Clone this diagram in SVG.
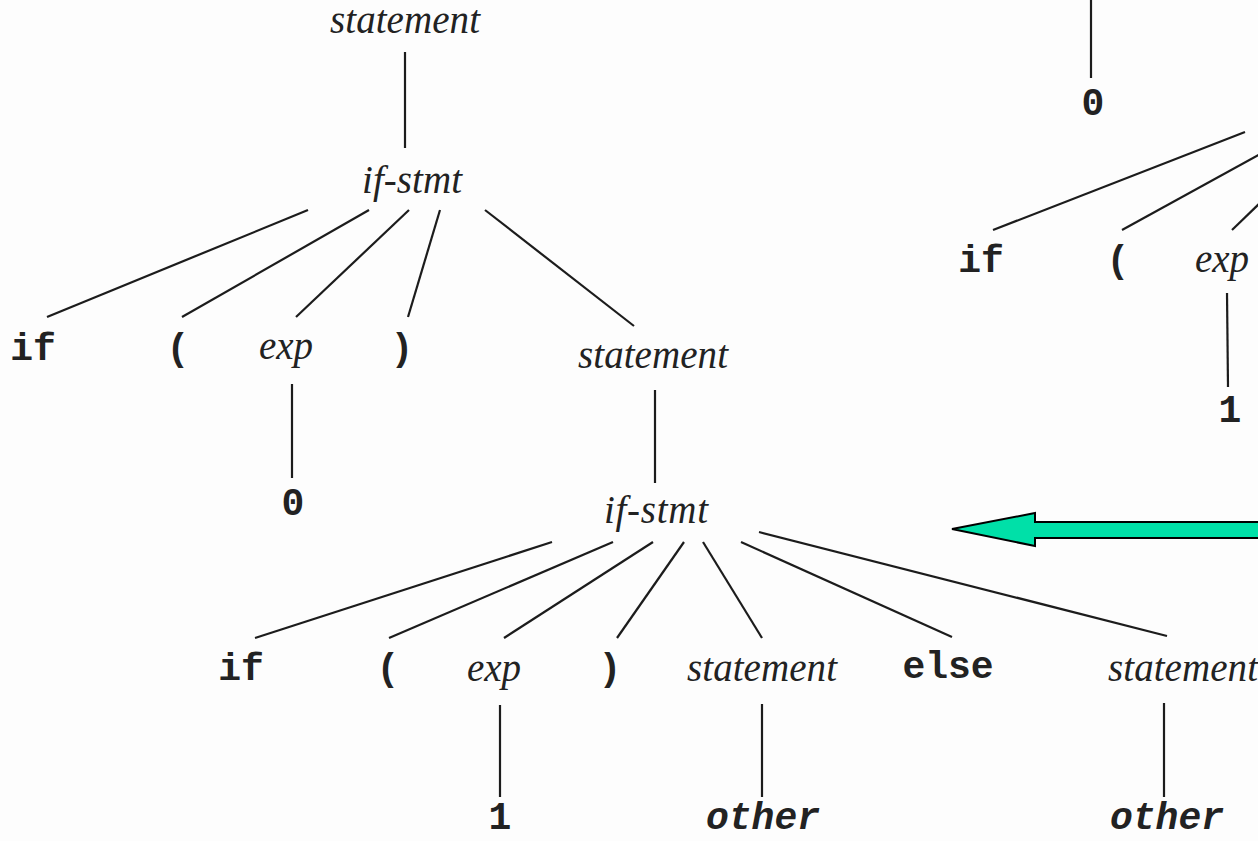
<svg xmlns="http://www.w3.org/2000/svg" width="1258" height="841" viewBox="0 0 1258 841">
  <style>
    .nt { font-family: "Liberation Serif", "Times New Roman", serif; font-style: italic; font-size: 39px; fill: #222; text-anchor: middle; }
    .tk { font-family: "Liberation Mono", "Courier New", monospace; font-weight: bold; font-size: 38px; fill: #222; text-anchor: middle; }
    .tki { font-style: italic; }
    .edge { stroke: #1c1c1c; stroke-width: 2.2; fill: none; stroke-linecap: butt; }
    .big-arrow { fill: #00e0a8; stroke: #000; stroke-width: 2; stroke-linejoin: miter; }
  </style>
  <rect width="1258" height="841" fill="#fdfdfd"/>

  <!-- tree edges -->
  <g id="connectors">
    <!-- upper tree -->
    <line class="edge" x1="405" y1="52" x2="405" y2="148"/>
    <line class="edge" x1="308" y1="210" x2="47" y2="317"/>
    <line class="edge" x1="369" y1="210" x2="182" y2="317"/>
    <line class="edge" x1="409" y1="210" x2="296" y2="317"/>
    <line class="edge" x1="440" y1="210" x2="408" y2="317"/>
    <line class="edge" x1="485" y1="210" x2="634" y2="326"/>
    <line class="edge" x1="292" y1="384" x2="292" y2="478"/>
    <line class="edge" x1="655" y1="390" x2="655" y2="483"/>
    <!-- inner if-stmt -->
    <line class="edge" x1="552" y1="542" x2="255" y2="638"/>
    <line class="edge" x1="613" y1="542" x2="389" y2="638"/>
    <line class="edge" x1="653" y1="542" x2="504" y2="638"/>
    <line class="edge" x1="684" y1="542" x2="617" y2="638"/>
    <line class="edge" x1="703" y1="542" x2="762" y2="638"/>
    <line class="edge" x1="741" y1="542" x2="952" y2="637"/>
    <line class="edge" x1="759" y1="532" x2="1167" y2="636"/>
    <line class="edge" x1="500" y1="705" x2="500" y2="797"/>
    <line class="edge" x1="762" y1="704" x2="762" y2="797"/>
    <line class="edge" x1="1164" y1="703" x2="1164" y2="797"/>
    <!-- right-hand tree -->
    <line class="edge" x1="1091" y1="0" x2="1091" y2="78"/>
    <line class="edge" x1="1245" y1="132" x2="993" y2="230"/>
    <line class="edge" x1="1262" y1="153" x2="1122" y2="230"/>
    <line class="edge" x1="1262" y1="201" x2="1232" y2="230"/>
    <line class="edge" x1="1227" y1="293" x2="1228" y2="387"/>
  </g>

  <!-- upper tree nodes -->
  <g id="n-statement-root"><text class="nt" x="405" y="33" textLength="150">statement</text></g>
  <g id="n-ifstmt-outer"><text class="nt" x="412" y="193" textLength="100">if-stmt</text></g>
  <g id="n-if-outer"><text class="tk" x="33" y="360">if</text></g>
  <g id="n-lparen-outer"><text class="tk" x="178" y="360">(</text></g>
  <g id="n-exp-outer"><text class="nt" x="286" y="359">exp</text></g>
  <g id="n-rparen-outer"><text class="tk" x="402" y="360">)</text></g>
  <g id="n-statement-then"><text class="nt" x="653" y="368" textLength="150">statement</text></g>
  <g id="n-zero-outer"><text class="tk" x="293" y="515">0</text></g>

  <!-- inner if-stmt -->
  <g id="n-ifstmt-inner"><text class="nt" x="656" y="523" textLength="104">if-stmt</text></g>
  <g id="n-if-inner"><text class="tk" x="241" y="680">if</text></g>
  <g id="n-lparen-inner"><text class="tk" x="388" y="680">(</text></g>
  <g id="n-exp-inner"><text class="nt" x="494" y="681">exp</text></g>
  <g id="n-rparen-inner"><text class="tk" x="610" y="680">)</text></g>
  <g id="n-statement-inner-then"><text class="nt" x="762" y="681" textLength="150">statement</text></g>
  <g id="n-else"><text class="tk" x="948" y="678">else</text></g>
  <g id="n-statement-else"><text class="nt" x="1108" y="681" style="text-anchor:start" textLength="150">statement</text></g>
  <g id="n-one-inner"><text class="tk" x="500" y="829">1</text></g>
  <g id="n-other-then"><text class="tk tki" x="763" y="829">other</text></g>
  <g id="n-other-else"><text class="tk tki" x="1167" y="829">other</text></g>

  <!-- right-hand tree (partly off the edge) -->
  <g id="n-zero-right"><text class="tk" x="1093" y="115">0</text></g>
  <g id="n-if-right"><text class="tk" x="981" y="272">if</text></g>
  <g id="n-lparen-right"><text class="tk" x="1118" y="272">(</text></g>
  <g id="n-exp-right"><text class="nt" x="1222" y="272">exp</text></g>
  <g id="n-one-right"><text class="tk" x="1230" y="422">1</text></g>

  <!-- transformation arrow -->
  <g id="transform-arrow">
    <polygon class="big-arrow" points="952,529 1035,513 1035,522 1262,522 1262,538 1035,538 1035,546"/>
  </g>
</svg>
